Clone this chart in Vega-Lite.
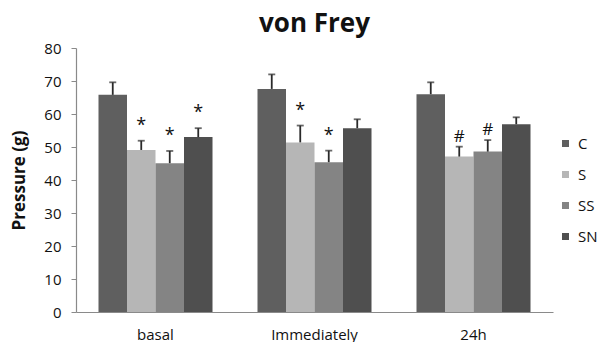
{
  "$schema": "https://vega.github.io/schema/vega-lite/v6.json",
  "width": 477,
  "height": 264,
  "autosize": "none",
  "padding": {"left": 76, "top": 48, "right": 45, "bottom": 30},
  "background": "white",
  "config": {
    "view": {"stroke": null},
    "font": "Open Sans"
  },
  "title": {"text": "von Frey", "fontSize": 26, "fontWeight": "bold", "anchor": "middle", "offset": 4, "color": "#111"},
  "data": {
    "values": [
      {"time": "basal", "group": "C", "value": 65.8, "err": 69.6, "label": ""},
      {"time": "basal", "group": "S", "value": 49.1, "err": 51.9, "label": "*"},
      {"time": "basal", "group": "SS", "value": 45.1, "err": 48.8, "label": "*"},
      {"time": "basal", "group": "SN", "value": 53.0, "err": 55.7, "label": "*"},
      {"time": "Immediately", "group": "C", "value": 67.6, "err": 72.0, "label": ""},
      {"time": "Immediately", "group": "S", "value": 51.4, "err": 56.5, "label": "*"},
      {"time": "Immediately", "group": "SS", "value": 45.4, "err": 48.9, "label": "*"},
      {"time": "Immediately", "group": "SN", "value": 55.7, "err": 58.4, "label": ""},
      {"time": "24h", "group": "C", "value": 66.0, "err": 69.6, "label": ""},
      {"time": "24h", "group": "S", "value": 47.1, "err": 50.1, "label": "#"},
      {"time": "24h", "group": "SS", "value": 48.6, "err": 52.1, "label": "#"},
      {"time": "24h", "group": "SN", "value": 56.9, "err": 59.0, "label": ""}
    ]
  },
  "encoding": {
    "x": {
      "field": "time", "type": "nominal", "sort": ["basal", "Immediately", "24h"],
      "scale": {"paddingInner": 0.283, "paddingOuter": 0.1415},
      "axis": {"title": null, "labelAngle": 0, "labelFontSize": 15, "labelColor": "#111", "ticks": false, "labelPadding": 15, "domainColor": "#8a8a8a", "domainWidth": 1.2}
    },
    "xOffset": {"field": "group", "type": "nominal", "sort": ["C", "S", "SS", "SN"], "scale": {"paddingInner": 0, "paddingOuter": 0}},
    "y": {
      "field": "value", "type": "quantitative",
      "scale": {"domain": [0, 80], "nice": false},
      "axis": {"values": [0, 10, 20, 30, 40, 50, 60, 70, 80], "ticks": true, "labelOverlap": false, "labelFlush": false, "grid": false, "title": "Pressure (g)", "titleFontSize": 17, "titleFontWeight": "bold", "titleColor": "#111", "titlePadding": 15, "labelFontSize": 15, "labelColor": "#111", "labelPadding": 10, "tickSize": 5, "tickColor": "#8a8a8a", "domainColor": "#8a8a8a", "domainWidth": 1.2}
    }
  },
  "layer": [
    {
      "mark": {"type": "bar"},
      "encoding": {
        "color": {
          "field": "group", "type": "nominal", "sort": ["C", "S", "SS", "SN"],
          "scale": {"domain": ["C", "S", "SS", "SN"], "range": ["#5f5f5f", "#b6b6b6", "#848484", "#4f4f4f"]},
          "legend": {"title": null, "orient": "none", "legendX": 482, "legendY": 88, "symbolType": "square", "symbolSize": 49, "symbolStrokeWidth": 0, "labelFontSize": 15, "labelColor": "#111", "rowPadding": 15, "labelOffset": 5}
        }
      }
    },
    {
      "mark": {"type": "rule", "color": "#2a2a2a", "strokeWidth": 1.8},
      "encoding": {
        "y2": {"field": "err"}
      }
    },
    {
      "mark": {"type": "tick", "orient": "horizontal", "color": "#2a2a2a", "thickness": 1.8, "size": 7},
      "encoding": {
        "y": {"field": "err", "type": "quantitative"}
      }
    },
    {
      "transform": [{"filter": "datum.label == '*'"}],
      "mark": {"type": "text", "fontSize": 18, "color": "#111", "baseline": "bottom", "dy": -6},
      "encoding": {
        "y": {"field": "err", "type": "quantitative"},
        "text": {"field": "label"}
      }
    },
    {
      "transform": [{"filter": "datum.label == '#'"}],
      "mark": {"type": "text", "fontSize": 17, "color": "#111", "baseline": "alphabetic", "dy": -5},
      "encoding": {
        "y": {"field": "err", "type": "quantitative"},
        "text": {"field": "label"}
      }
    }
  ]
}
